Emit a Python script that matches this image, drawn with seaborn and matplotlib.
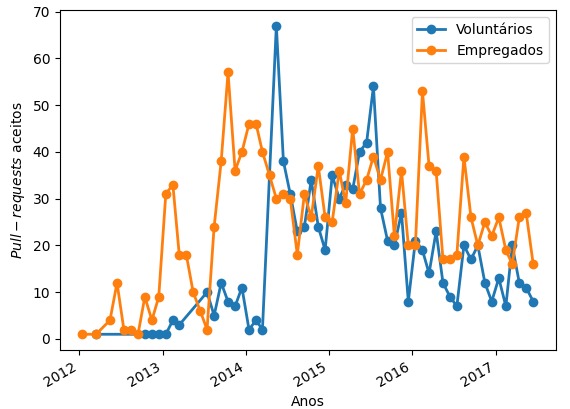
import matplotlib
matplotlib.use("Agg")
import matplotlib.pyplot as plt
import seaborn as sns
import pandas as pd

# month offsets from Jan 2012
vol_months = [2, 9, 10, 11, 12, 13, 14, 18, 19, 20, 21, 22, 23, 24, 25, 26] + list(range(28, 66))
vol_values = [1, 1, 1, 1, 1, 4, 3, 10, 5, 12, 8, 7, 11, 2, 4, 2,
              67, 38, 31, 23, 24, 34, 24, 19, 35, 30, 33, 32, 40, 42, 54, 28, 21, 20, 27,
              8, 21, 19, 14, 23, 12, 9, 7, 20, 17, 20, 12, 8, 13, 7, 20, 12, 11, 8]
emp_months = [0, 2, 4, 5] + list(range(6, 66))
emp_values = [1, 1, 4, 12,
              2, 2, 1, 9, 4, 9, 31, 33, 18, 18, 10, 6, 2, 24, 38, 57, 36, 40, 46, 46,
              40, 35, 30, 31, 30, 18, 31, 26, 37, 26, 25, 36, 29, 45, 31, 34, 39, 34, 40, 22,
              36, 20, 20, 53, 37, 36, 17, 17, 18, 39, 26, 20, 25, 22, 26, 19, 16, 26, 27, 16]

start = pd.Timestamp("2012-01-15")
vol_dates = [start + pd.DateOffset(months=m) for m in vol_months]
emp_dates = [start + pd.DateOffset(months=m) for m in emp_months]

fig, ax = plt.subplots(figsize=(5.7, 4.09), dpi=100)
sns.lineplot(x=vol_dates, y=vol_values, marker="o", markersize=7, markeredgewidth=0,
             linewidth=2, color="#1f77b4", label="Voluntários", ax=ax)
sns.lineplot(x=emp_dates, y=emp_values, marker="o", markersize=7, markeredgewidth=0,
             linewidth=2, color="#ff7f0e", label="Empregados", ax=ax)
ax.set_xlabel("Anos")
ax.set_ylabel("$Pull-requests$ aceitos")
ax.set_yticks(range(0, 71, 10))
ax.legend(loc="upper right")
fig.autofmt_xdate()
fig.subplots_adjust(left=0.105, right=0.975, top=0.975, bottom=0.145)
fig.savefig("out.png")
